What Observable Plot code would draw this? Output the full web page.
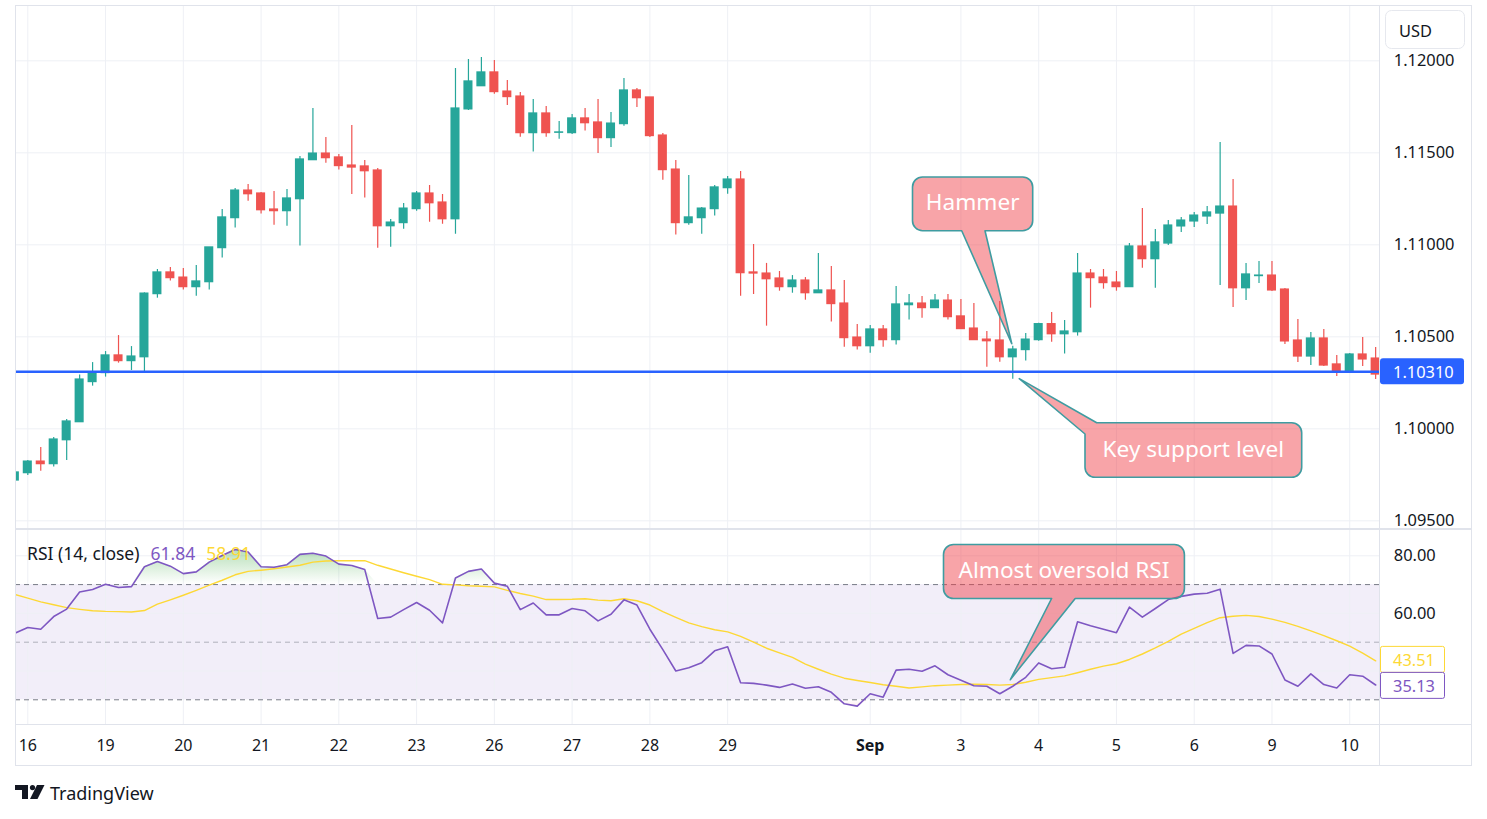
<!DOCTYPE html>
<html><head><meta charset="utf-8">
<script src="https://cdn.jsdelivr.net/npm/d3@7"></script>
<script src="https://cdn.jsdelivr.net/npm/@observablehq/plot@0.6"></script>
<style>
html,body{margin:0;padding:0;background:#fff;}
#wrap{position:relative;width:1487px;height:819px;overflow:hidden;font-family:'Noto Sans',sans-serif;}
#price,#rsi{position:absolute;left:0;width:1487px;}
#price{top:0}
#rsi{top:530px}
#overlay{position:absolute;left:0;top:0;pointer-events:none}
</style></head><body>
<div id="wrap"><div id="price"></div><div id="rsi"></div><svg id="overlay" width="1487" height="819"></svg></div>
<script>
// ---- data (EUR/USD 4H candles, index 0 = Aug 15 20:00) ----
const opens = [1.09719,1.09759,1.09822,1.09808,1.09938,1.10036,1.10254,1.10303,1.10399,1.10368,
1.10389,1.10732,1.10850,1.10822,1.10770,1.10797,1.10982,1.11145,1.11295,1.11279,
1.11192,1.11183,1.11248,1.11460,1.11496,1.11475,1.11431,1.11426,1.11404,1.11101,
1.11118,1.11194,1.11279,1.11230,1.11139,1.11736,1.11862,1.11937,1.11833,1.11806,
1.11607,1.11714,1.11609,1.11607,1.11687,1.11665,1.11580,1.11656,1.11839,1.11801,
1.11594,1.11409,1.11118,1.11145,1.11194,1.11308,1.11355,1.10850,1.10844,1.10817,
1.10770,1.10806,1.10737,1.10752,1.10681,1.10496,1.10449,1.10540,1.10482,1.10672,
1.10681,1.10656,1.10697,1.10611,1.10545,1.10485,1.10480,1.10389,1.10428,1.10482,
1.10569,1.10514,1.10525,1.10844,1.10822,1.10795,1.10770,1.10991,1.10922,1.11007,
1.11100,1.11127,1.11154,1.11170,1.11208,1.10764,1.10830,1.10833,1.10757,1.10480,
1.10393,1.10491,1.10350,1.10306,1.10404,1.10382];
const highs = [1.09763,1.09828,1.09899,1.09953,1.10051,1.10293,1.10360,1.10420,1.10507,1.10447,
1.10739,1.10866,1.10877,1.10871,1.10888,1.10986,1.11192,1.11306,1.11328,1.11284,
1.11290,1.11301,1.11480,1.11741,1.11583,1.11491,1.11649,1.11458,1.11415,1.11138,
1.11225,1.11290,1.11322,1.11274,1.11958,1.12007,1.12018,1.12002,1.11893,1.11828,
1.11790,1.11752,1.11670,1.11708,1.11741,1.11790,1.11719,1.11904,1.11850,1.11801,
1.11605,1.11458,1.11377,1.11203,1.11322,1.11371,1.11399,1.11002,1.10899,1.10855,
1.10833,1.10822,1.10953,1.10882,1.10806,1.10567,1.10562,1.10562,1.10774,1.10730,
1.10719,1.10730,1.10730,1.10703,1.10681,1.10529,1.10692,1.10449,1.10518,1.10574,
1.10632,1.10589,1.10953,1.10866,1.10866,1.10855,1.11007,1.11197,1.11083,1.11132,
1.11149,1.11176,1.11208,1.11556,1.11355,1.10899,1.10909,1.10909,1.10763,1.10594,
1.10524,1.10540,1.10399,1.10409,1.10496,1.10442];
const lows = [1.09719,1.09746,1.09770,1.09792,1.09828,1.10036,1.10232,1.10281,1.10357,1.10317,
1.10308,1.10710,1.10803,1.10754,1.10721,1.10754,1.10928,1.11091,1.11237,1.11167,
1.11107,1.11101,1.10993,1.11460,1.11444,1.11406,1.11274,1.11254,1.10982,1.10987,
1.11085,1.11183,1.11123,1.11112,1.11058,1.11730,1.11862,1.11819,1.11757,1.11585,
1.11504,1.11585,1.11574,1.11600,1.11618,1.11496,1.11529,1.11645,1.11746,1.11583,
1.11351,1.11053,1.11107,1.11058,1.11156,1.11275,1.10721,1.10730,1.10558,1.10748,
1.10737,1.10699,1.10737,1.10580,1.10444,1.10428,1.10411,1.10444,1.10455,1.10591,
1.10601,1.10656,1.10591,1.10542,1.10482,1.10335,1.10362,1.10270,1.10368,1.10476,
1.10471,1.10406,1.10504,1.10656,1.10759,1.10748,1.10770,1.10873,1.10764,1.10996,
1.11067,1.11094,1.11111,1.10779,1.10659,1.10697,1.10790,1.10746,1.10458,1.10361,
1.10344,1.10339,1.10284,1.10306,1.10339,1.10268];
const closes = [1.09763,1.09822,1.09808,1.09942,1.10040,1.10268,1.10306,1.10399,1.10368,1.10393,
1.10735,1.10850,1.10819,1.10770,1.10801,1.10986,1.11149,1.11295,1.11275,1.11188,
1.11183,1.11252,1.11464,1.11496,1.11471,1.11428,1.11420,1.11400,1.11101,1.11121,
1.11197,1.11279,1.11226,1.11139,1.11741,1.11888,1.11937,1.11830,1.11803,1.11607,
1.11714,1.11607,1.11611,1.11687,1.11661,1.11580,1.11659,1.11839,1.11797,1.11591,
1.11406,1.11118,1.11149,1.11197,1.11312,1.11355,1.10846,1.10844,1.10813,1.10770,
1.10806,1.10737,1.10752,1.10678,1.10493,1.10449,1.10540,1.10482,1.10676,1.10681,
1.10656,1.10697,1.10607,1.10542,1.10482,1.10476,1.10389,1.10431,1.10485,1.10569,
1.10514,1.10529,1.10844,1.10819,1.10792,1.10770,1.10991,1.10922,1.11013,1.11105,
1.11132,1.11159,1.11176,1.11208,1.10764,1.10839,1.10833,1.10752,1.10475,1.10393,
1.10491,1.10344,1.10306,1.10404,1.10377,1.10295];
const rsiValues = [53.1,55.1,54.5,58.9,61.5,67.4,68.3,70.1,69.0,69.3,
76.2,78.0,76.4,73.8,74.4,77.8,80.1,82.2,81.3,76.2,
76.0,76.9,80.5,80.9,79.9,77.1,76.6,75.2,58.2,58.7,
61.3,63.8,61.1,56.7,72.3,74.6,75.4,70.5,69.4,61.3,
63.6,59.5,59.5,61.7,60.9,57.4,59.7,64.7,62.9,54.5,
47.4,40.0,41.1,42.9,47.0,48.4,35.9,35.7,35.1,34.3,
35.5,34.0,34.5,32.6,28.6,27.8,32.1,30.9,40.3,40.6,
39.9,41.8,38.7,36.8,34.9,34.7,32.1,34.7,37.8,42.8,
40.8,41.3,57.1,55.7,54.5,53.3,62.2,58.7,61.7,64.8,
65.9,66.7,67.0,68.4,46.1,48.9,48.7,45.9,36.9,34.7,
39.0,35.3,34.1,38.7,38.2,35.13];
const rsiMA = [66.6,65.3,64.0,63.0,62.0,61.4,60.9,60.7,60.6,60.5,
61.0,63.2,64.7,66.3,68.0,69.8,71.5,73.4,74.6,75.0,
75.5,76.1,76.7,77.8,78.2,78.3,78.3,78.3,76.7,75.4,
74.1,72.9,71.7,70.1,69.9,69.6,69.4,69.2,68.0,66.9,
66.0,64.8,64.8,64.9,65.1,64.6,64.4,65.1,64.4,62.9,
60.6,58.6,56.7,55.4,54.3,53.6,52.0,50.0,47.9,46.3,
44.7,42.4,40.6,38.9,37.5,36.7,36.0,35.2,34.7,34.1,
34.5,34.9,35.1,35.3,35.4,35.3,35.1,35.3,36.1,37.1,
37.7,38.3,39.4,40.6,41.7,42.5,44.0,45.9,48.0,50.3,
52.8,54.8,56.8,58.5,59.0,59.3,58.9,58.0,56.9,55.5,
53.9,52.3,50.5,48.6,46.2,43.51];
const dayIdx = [1,7,13,19,25,31,37,43,49,55,66,73,79,85,91,97,103];
const dayLabels = ["16","19","20","21","22","23","26","27","28","29","Sep","3","4","5","6","9","10"];
const priceTicks = [1.095,1.100,1.105,1.110,1.115,1.120];
const rsiTickVals = [80,60];
const rsiGridVals = [80,60,40];
const supportLevel = 1.1031;
const rsiUpper = 70, rsiMid = 50, rsiLower = 30;
const hammerIdx = 77;
const legendRsi = "61.84", legendMa = "58.91";

// ---- layout ----
const W = 1487;
const up = "#26A69A", down = "#EF5350", gridC = "#EEF0F5", txt = "#131722";
const purple = "#7E57C2", yellow = "#FDD835";
const xDomain = [0.051, 105.32];
const baseStyle = {background:"transparent", fontFamily:"'Noto Sans', sans-serif", fontSize:"16px", color:txt, overflow:"visible"};
const fmt5 = d3.format(".5f"), fmt2 = d3.format(".2f");
const labelOf = i => dayLabels[dayIdx.indexOf(i)];
const monthIdx = dayIdx.filter(i => isNaN(+labelOf(i)));
const plainIdx = dayIdx.filter(i => !isNaN(+labelOf(i)));

const candles = opens.map((o,i)=>({i, o, h:highs[i], l:lows[i], c:closes[i]}));
const colorOf = d => d.c >= d.o ? up : down;

const pricePlot = Plot.plot({
  width: W, height: 528, marginTop: 5, marginBottom: 0, marginLeft: 15, marginRight: W - 1379.3,
  style: baseStyle,
  x: {domain: xDomain, axis: null, label: null},
  y: {domain: [1.094583, 1.123007], axis: null, label: null},
  color: {type: "identity"},
  marks: [
    Plot.gridY(priceTicks, {stroke: gridC, strokeOpacity: 1}),
    Plot.gridX(dayIdx, {stroke: gridC, strokeOpacity: 1}),
    Plot.ruleX(candles, {x: "i", y1: "l", y2: "h", stroke: colorOf, strokeWidth: 1.2, clip: true}),
    Plot.rect(candles, {x1: d => d.i - 0.35, x2: d => d.i + 0.35, y1: "o", y2: "c", fill: colorOf, insetTop: -0.6, insetBottom: -0.6, clip: true}),
    Plot.ruleY([supportLevel], {stroke: "#2962FF", strokeWidth: 2.6}),
    Plot.axisY(priceTicks, {anchor: "right", tickSize: 0, tickPadding: 14, tickFormat: fmt5, label: null, fontSize: 16.4})
  ]
});
document.getElementById("price").appendChild(pricePlot);

const rsiData = rsiValues.map((v,i)=>({i, v, m: rsiMA[i]}));
const rsiBand = [{lo: rsiLower, hi: rsiUpper}];
const rsiPlot = Plot.plot({
  width: W, height: 236, marginTop: 0, marginBottom: 42, marginLeft: 15, marginRight: W - 1379.3,
  style: baseStyle,
  x: {domain: xDomain, axis: null, label: null},
  y: {domain: [21.42, 88.78], axis: null, label: null},
  marks: [
    Plot.rect(rsiBand, {y1: "lo", y2: "hi", fill: purple, fillOpacity: 0.1}),
    Plot.gridX(dayIdx, {stroke: gridC, strokeOpacity: 1}),
    Plot.gridY(rsiGridVals, {stroke: gridC, strokeOpacity: 1}),
    Plot.areaY(rsiData, {x: "i", y1: rsiUpper, y2: d => Math.max(d.v, rsiUpper), fill: "url(#rsiOB)", clip: true}),
    Plot.areaY(rsiData, {x: "i", y1: d => Math.min(d.v, rsiLower), y2: rsiLower, fill: "url(#rsiOS)", clip: true}),
    Plot.ruleY([rsiUpper, rsiLower], {stroke: "#787B86", strokeDasharray: "5,4"}),
    Plot.ruleY([rsiMid], {stroke: "#787B86", strokeOpacity: 0.55, strokeDasharray: "5,4"}),
    Plot.line(rsiData, {x: "i", y: "m", stroke: yellow, strokeWidth: 1.4, clip: true}),
    Plot.line(rsiData, {x: "i", y: "v", stroke: purple, strokeWidth: 1.6, clip: true}),
    Plot.axisY(rsiTickVals, {anchor: "right", tickSize: 0, tickPadding: 14, tickFormat: fmt2, label: null, fontSize: 16.4}),
    Plot.axisX(plainIdx, {tickSize: 0, tickPadding: 15, tickFormat: labelOf, label: null}),
    Plot.axisX(monthIdx, {tickSize: 0, tickPadding: 15, tickFormat: labelOf, label: null, fontWeight: "bold"})
  ]
});
document.getElementById("rsi").appendChild(rsiPlot);

const ry = rsiPlot.scale("y"), px = pricePlot.scale("x"), py = pricePlot.scale("y");
// gradients for overbought / oversold fills
const defs = d3.select(rsiPlot).insert("defs", ":first-child");
const gOB = defs.append("linearGradient").attr("id","rsiOB").attr("gradientUnits","userSpaceOnUse")
  .attr("x1",0).attr("x2",0).attr("y1",ry.apply(100)).attr("y2",ry.apply(rsiUpper));
gOB.append("stop").attr("offset",0).attr("stop-color","#4CAF50").attr("stop-opacity",1);
gOB.append("stop").attr("offset",1).attr("stop-color","#4CAF50").attr("stop-opacity",0);
const gOS = defs.append("linearGradient").attr("id","rsiOS").attr("gradientUnits","userSpaceOnUse")
  .attr("x1",0).attr("x2",0).attr("y1",ry.apply(rsiLower)).attr("y2",ry.apply(0));
gOS.append("stop").attr("offset",0).attr("stop-color","#F23645").attr("stop-opacity",0);
gOS.append("stop").attr("offset",1).attr("stop-color","#F23645").attr("stop-opacity",1);

// ---- overlay: frame, labels, callouts ----
const ov = d3.select("#overlay").style("font-family","'Noto Sans', sans-serif");
const RSI_TOP = 530, RIGHT = 1379.5, OUTER_R = 1471.5, BOTTOM = 765.5;
const border = "#E0E3EB";
ov.append("rect").attr("x",15.5).attr("y",5.5).attr("width",OUTER_R-15.5).attr("height",BOTTOM-5.5)
  .attr("fill","none").attr("stroke",border);
ov.append("line").attr("x1",RIGHT).attr("x2",RIGHT).attr("y1",5).attr("y2",BOTTOM).attr("stroke",border);
ov.append("line").attr("x1",15).attr("x2",OUTER_R).attr("y1",529).attr("y2",529).attr("stroke",border).attr("stroke-width",2);
ov.append("line").attr("x1",15).attr("x2",OUTER_R).attr("y1",724.5).attr("y2",724.5).attr("stroke",border);

// USD box
ov.append("rect").attr("x",1385.5).attr("y",10.5).attr("width",79).attr("height",38).attr("rx",6)
  .attr("fill","#fff").attr("stroke","#E6E8EE");
ov.append("text").attr("x",1399).attr("y",30).attr("dominant-baseline","central").attr("font-size",16.4).attr("fill",txt).text("USD");

// support price label
const sy = py.apply(supportLevel);
ov.append("rect").attr("x",1380).attr("y",sy-13).attr("width",84).attr("height",26).attr("rx",3).attr("fill","#2962FF");
ov.append("text").attr("x",1393).attr("y",sy).attr("dominant-baseline","central").attr("font-size",16.4).attr("fill","#fff").text(fmt5(supportLevel));

// RSI value labels
const maLast = rsiMA[rsiMA.length-1], rsiLast = rsiValues[rsiValues.length-1];
let yMa = RSI_TOP + ry.apply(maLast), yR = RSI_TOP + ry.apply(rsiLast);
let yMaTop = yMa - 14, yRTop = Math.max(yR - 13, yMaTop + 26);
[[yMaTop, yellow, maLast], [yRTop, purple, rsiLast]].forEach(([t, c, v]) => {
  ov.append("rect").attr("x",1380.5).attr("y",t).attr("width",64).attr("height",26).attr("rx",2)
    .attr("fill","#fff").attr("stroke",c);
  ov.append("text").attr("x",1393).attr("y",t+13).attr("dominant-baseline","central").attr("font-size",16.4).attr("fill",c).text(fmt2(v));
});

// legend
const lg = ov.append("text").attr("x",27).attr("y",553).attr("dominant-baseline","central").attr("font-size",17.5);
lg.append("tspan").attr("fill",txt).text("RSI (14, close)");
lg.append("tspan").attr("dx",11).attr("fill",purple).text(legendRsi);
lg.append("tspan").attr("dx",11).attr("fill",yellow).text(legendMa);

// callouts
function callout(x0,y0,x1,y1,tail,label){
  const r = 10;
  let d;
  if (tail.edge === "bottom") {
    d = `M${x0+r},${y0}H${x1-r}A${r},${r} 0 0 1 ${x1},${y0+r}V${y1-r}A${r},${r} 0 0 1 ${x1-r},${y1}`+
        `H${tail.b}L${tail.tx},${tail.ty}L${tail.a},${y1}H${x0+r}A${r},${r} 0 0 1 ${x0},${y1-r}V${y0+r}A${r},${r} 0 0 1 ${x0+r},${y0}Z`;
  } else {
    d = `M${tail.b},${y0}H${x1-r}A${r},${r} 0 0 1 ${x1},${y0+r}V${y1-r}A${r},${r} 0 0 1 ${x1-r},${y1}`+
        `H${x0+r}A${r},${r} 0 0 1 ${x0},${y1-r}V${tail.a}L${tail.tx},${tail.ty}Z`;
  }
  ov.append("path").attr("d",d).attr("fill","rgba(241,62,70,0.47)").attr("stroke","#3F9CA1").attr("stroke-width",1.6).attr("stroke-linejoin","round");
  ov.append("text").attr("x",(x0+x1)/2).attr("y",(y0+y1)/2 - 2).attr("text-anchor","middle").attr("dominant-baseline","central")
    .attr("font-size",22.6).attr("fill","#fff").text(label);
}
const hx = px.apply(hammerIdx);
callout(912.5,177,1032.7,230.7,{edge:"bottom",a:961.7,b:985,tx:hx-0.5,ty:py.apply(highs[hammerIdx])-2},"Hammer");
callout(1085,422.7,1301.7,477.3,{edge:"tl",a:434,b:1096.7,tx:hx+7,ty:py.apply(lows[hammerIdx])},"Key support level");
callout(943.5,544.5,1184.4,598.5,{edge:"bottom",a:1051.6,b:1075.2,tx:hx-2,ty:RSI_TOP+ry.apply(rsiValues[hammerIdx])-6},"Almost oversold RSI");

// TradingView logo
const logo = ov.append("g").attr("transform","translate(15,785)").attr("fill",txt);
logo.append("path").attr("d","M0,0H13V14H7V5H0Z");
logo.append("circle").attr("cx",17.5).attr("cy",2.6).attr("r",2.6);
logo.append("path").attr("d","M22,0H29.5L22.5,14H15Z");
ov.append("text").attr("x",50).attr("y",793).attr("dominant-baseline","central").attr("font-size",18).attr("fill",txt).text("TradingView");
</script>
</body></html>
